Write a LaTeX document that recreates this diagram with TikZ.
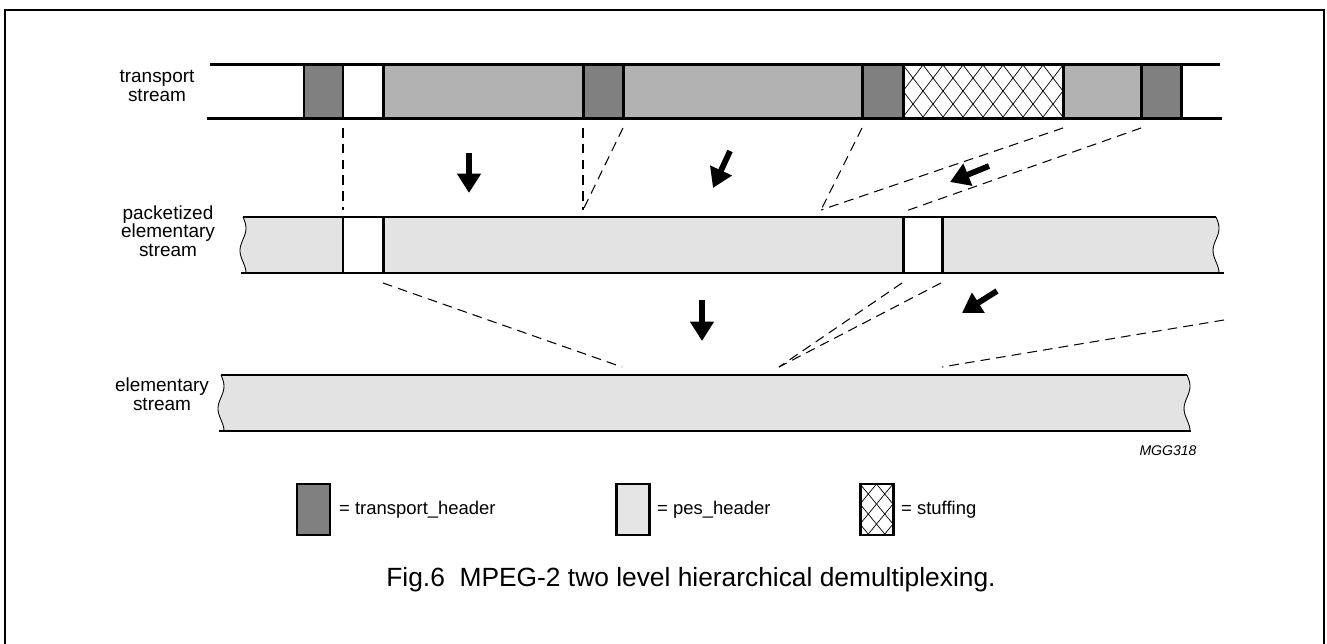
\documentclass[tikz,border=0pt]{standalone}
\usepackage{fontspec}
\setmainfont{Liberation Sans}
\usetikzlibrary{arrows.meta}

\begin{document}
\begin{tikzpicture}[
        x=0.02cm, y=-0.02cm,
        % --- STYLES ---
        % 1. Stream borders and blocks
        bar/.style={line width=1.7pt},
        tshdr/.style={fill=black!50},
        tspay/.style={fill=black!30},
        pesfill/.style={fill=black!11},
        wave/.style={line width=0.5pt},
        hatch/.style={line width=0.4pt},
        % 2. Dashed mapping lines
        dashline/.style={line width=0.6pt, dash pattern=on 5.5pt off 3.5pt},
        % 3. Thick direction arrows
        bigarrow/.style={line width=3.3pt, -{Triangle[length=11pt, width=13pt]}},
        % 4. Texts
        lbl/.style={align=center, font=\fontsize{10.8}{10.5}\selectfont},
        legtxt/.style={anchor=west, font=\fontsize{10.5}{12}\selectfont}
    ]
    \useasboundingbox (0,0) rectangle (1327,644);

    % Frame
    \draw[line width=1.1pt] (5,660) -- (5,10) -- (1324,10) -- (1324,660);

    % 1. Transport stream
    \node[lbl] (tslbl) at (157,86) {transport\\stream};
    \foreach \a/\b in {383/583, 623/862, 1063/1141}
        \draw[bar, tspay] (\a,65) rectangle (\b,119);
    \foreach \a/\b in {304/343, 583/623, 862/903, 1141/1181}
        \draw[bar, tshdr] (\a,65) rectangle (\b,119);
    \draw[bar, fill=white] (903,65) rectangle (1063,119);
    \begin{scope}
        \clip (903,65) rectangle (1063,119);
        \foreach \k in {-3,...,11} {
            \draw[hatch] (903+20*\k,65) -- ++(41.5,54);
            \draw[hatch] (903+20*\k,65) -- ++(-41.5,54);
        }
    \end{scope}
    \draw[bar] (903,65) rectangle (1063,119);
    \draw[bar] (210,65) -- (1220,65);
    \draw[bar] (207,119) -- (1222,119);

    % 2. Packetized elementary stream
    \node[lbl] (peslbl) at (168,231) {packetized\\elementary\\stream};
    \fill[pesfill] (243,217) -- (1216,217)
        -- plot[domain=0:1, samples=25] ({1216+3*sin(\x*450)},{217+56*\x})
        -- plot[domain=1:0, samples=25] ({243+3*sin(\x*450)},{217+56*\x}) -- cycle;
    \draw[wave] plot[domain=0:1, samples=25] ({1216+3*sin(\x*450)},{217+56*\x});
    \draw[wave] plot[domain=0:1, samples=25] ({243+3*sin(\x*450)},{217+56*\x});
    \draw[bar, fill=white] (343,217) rectangle (383,273);
    \draw[bar, fill=white] (903,217) rectangle (942,273);
    \draw[bar] (243,217) -- (1216,217);
    \draw[bar] (241,273) -- (1224,273);

    % 3. Elementary stream
    \node[lbl] (eslbl) at (162,394) {elementary\\stream};
    \fill[pesfill] (221,375) -- (1187,375)
        -- plot[domain=0:1, samples=25] ({1187+3*sin(\x*450)},{375+56*\x})
        -- plot[domain=1:0, samples=25] ({221+3*sin(\x*450)},{375+56*\x}) -- cycle;
    \draw[wave] plot[domain=0:1, samples=25] ({1187+3*sin(\x*450)},{375+56*\x});
    \draw[wave] plot[domain=0:1, samples=25] ({221+3*sin(\x*450)},{375+56*\x});
    \draw[bar] (221,375) -- (1187,375);
    \draw[bar] (219,431) -- (1191,431);

    % 4. Mapping lines
    \coordinate (ta) at (343,128);
    \coordinate (tb) at (583,128);
    \coordinate (tc) at (623,128);
    \coordinate (td) at (862,128);
    \coordinate (te) at (1063,128);
    \coordinate (tf) at (1141,128);
    \coordinate (pa) at (343,210);
    \coordinate (pb) at (583,210);
    \coordinate (pc) at (821,210);
    \coordinate (pd) at (903,212);
    \draw[dashline] (ta) -- (pa);
    \draw[dashline] (tb) -- (pb);
    \draw[dashline] (tc) -- (pb);
    \draw[dashline] (td) -- (pc);
    \draw[dashline] (te) -- (pc);
    \draw[dashline] (tf) -- (pd);

    \coordinate (qa) at (383,283);
    \coordinate (qb) at (902,283);
    \coordinate (qc) at (941,283);
    \coordinate (qd) at (1224,320);
    \coordinate (ea) at (622,367);
    \coordinate (eb) at (779,367);
    \coordinate (ec) at (942,367);
    \draw[dashline] (qa) -- (ea);
    \draw[dashline] (qb) -- (eb);
    \draw[dashline] (qc) -- (eb);
    \draw[dashline] (qd) -- (ec);

    % 5. Arrows
    \coordinate (a1s) at (469,153);  \coordinate (a1e) at (469,193);
    \coordinate (a2s) at (730,151);  \coordinate (a2e) at (713,188);
    \coordinate (a3s) at (989,166);  \coordinate (a3e) at (950,182);
    \coordinate (a4s) at (702,300);  \coordinate (a4e) at (702,341);
    \coordinate (a5s) at (997,291);  \coordinate (a5e) at (962,313);
    \draw[bigarrow] (a1s) -- (a1e);
    \draw[bigarrow] (a2s) -- (a2e);
    \draw[bigarrow] (a3s) -- (a3e);
    \draw[bigarrow] (a4s) -- (a4e);
    \draw[bigarrow] (a5s) -- (a5e);

    \node[font=\fontsize{8}{9}\selectfont\itshape] (code) at (1168,451) {MGG318};

    % 6. Legend
    \draw[bar, tshdr] (297,484) rectangle (330,535);
    \node[legtxt] (lg1) at (333,510) {= transport\_header};
    \draw[bar, fill=black!10] (616,484) rectangle (649,535);
    \node[legtxt] (lg2) at (651,510) {= pes\_header};
    \draw[bar, fill=white] (860,484) rectangle (893,535);
    \begin{scope}
        \clip (860,484) rectangle (893,535);
        \foreach \k in {-3,...,5} {
            \draw[hatch] (860+16.5*\k,484) -- ++(42,51);
            \draw[hatch] (860+16.5*\k,484) -- ++(-42,51);
        }
    \end{scope}
    \draw[bar] (860,484) rectangle (893,535);
    \node[legtxt] (lg3) at (895,510) {= stuffing};

    % 7. Caption
    \node[font=\fontsize{15}{17}\selectfont] (cap) at (691,580)
        {Fig.6\ \ MPEG-2 two level hierarchical demultiplexing.};
\end{tikzpicture}
\end{document}
